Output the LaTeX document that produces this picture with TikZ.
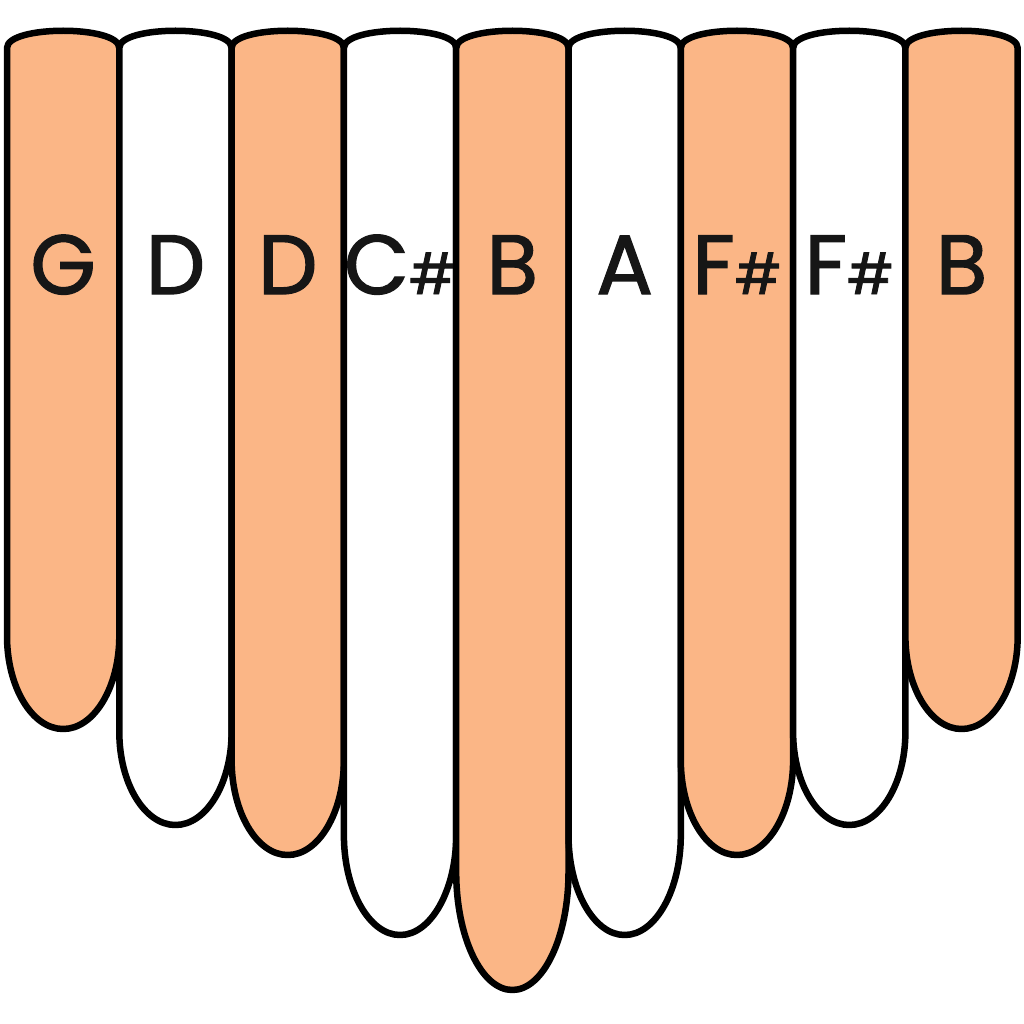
\documentclass[tikz,border=0pt]{standalone}
\usepackage{fontspec}
\setmainfont{Poppins}[FakeBold=1.6]
\usepackage{tikz}

\definecolor{tineorange}{RGB}{251,182,134}
\definecolor{notetext}{RGB}{22,22,22}

\tikzset{
  tine/.style={draw=black,line width=6.5pt,line join=round},
  note/.style={anchor=base,inner sep=0pt,text=notetext,font=\fontsize{84}{84}\selectfont},
}
\newcommand{\sharpsign}{{\fontsize{56}{56}\selectfont\#}}

\begin{document}
\begin{tikzpicture}[x=1pt,y=-1pt]
      \useasboundingbox (0,0) rectangle (1023,1024);
      \fill[white] (0,0) rectangle (1023,1024);

      %% the nine tines: index / end of straight part / bottom / fill / label / name
      \foreach \i/\ys/\yb/\col/\lab/\nm in {
          0/636/729/tineorange/G/g,
          1/732/825/white/D/d1,
          2/760/855/tineorange/D/d2,
          3/835/935/white/C\sharpsign/cs,
          4/872/990/tineorange/B/b1,
          5/835/935/white/A/a,
          6/760/855/tineorange/F\sharpsign/fs1,
          7/732/825/white/F\sharpsign/fs2,
          8/636/729/tineorange/B/b2} {
        \pgfmathsetmacro{\l}{7+112.3*\i}
        \pgfmathsetmacro{\r}{\l+112.3}
        \pgfmathsetmacro{\c}{\l+56.15}
        \pgfmathsetmacro{\k}{\ys+0.55*(\yb-\ys)}
        \draw[tine,fill=\col] (\l,\ys) -- (\l,48)
            .. controls (\l,25) and (\r,25) .. (\r,48) -- (\r,\ys)
            .. controls (\r,\k) and (\c+31,\yb) .. (\c,\yb)
            .. controls (\c-31,\yb) and (\l,\k) .. (\l,\ys) -- cycle;
        \node[note] (\nm) at (\c,294) {\lab};
      }
    \end{tikzpicture}
\end{document}
